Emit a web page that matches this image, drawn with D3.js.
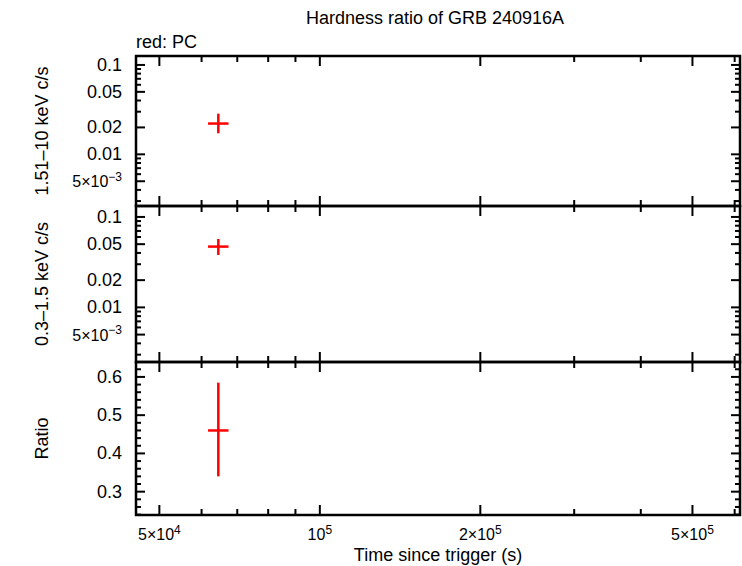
<!DOCTYPE html><html><head><script src="https://cdn.jsdelivr.net/npm/d3@7"></script>
<style>body{margin:0;background:#fff}text{font-family:"Liberation Sans",Arial,sans-serif}</style></head><body>
<svg id="c" width="742" height="566"></svg>
<script>
const times=[64500], timeLo=[61700], timeHi=[67400];
const hard=[0.0221], hardLo=[0.0172], hardHi=[0.0285];
const soft=[0.047], softLo=[0.038], softHi=[0.057];
const ratio=[0.46], ratioLo=[0.34], ratioHi=[0.585];
const xTickVals=[5e4,1e5,2e5,5e5];
const xTickLabels=[["5×10","4"],["10","5"],["2×10","5"],["5×10","5"]];
const svg=d3.select("#c");
const L=136,R=740;
const x=d3.scaleLog().domain([45200,614000]).range([L,R]);
const logTl=[["0.1"],["0.05"],["0.02"],["0.01"],["5×10","−3"]];
const panels=[
 {t:56,b:206,y:d3.scaleLog().domain([10**-2.578,10**-0.9]),d:hard,lo:hardLo,hi:hardHi,lab:"1.51–10 keV c/s",ticks:[0.1,0.05,0.02,0.01,0.005],tl:logTl,log:true},
 {t:206,b:362,y:d3.scaleLog().domain([10**-2.604,10**-0.879]),d:soft,lo:softLo,hi:softHi,lab:"0.3–1.5 keV c/s",ticks:[0.1,0.05,0.02,0.01,0.005],tl:logTl,log:true},
 {t:362,b:515,y:d3.scaleLinear().domain([0.239,0.639]),d:ratio,lo:ratioLo,hi:ratioHi,lab:"Ratio",ticks:[0.3,0.4,0.5,0.6],tl:[["0.3"],["0.4"],["0.5"],["0.6"]],log:false}
];
function sup(t,parts,fs){t.append("tspan").attr("font-size",fs).text(parts[0]);
 if(parts[1])t.append("tspan").attr("font-size",fs*0.75).attr("dy",-fs*0.4).text(parts[1]);}
const minorX=[];for(let d=1e4;d<=1e6;d*=10)for(let k=1;k<10;k++){const v=k*d;if(v>45200&&v<614000)minorX.push(v);}
panels.forEach(p=>{
 p.y.range([p.b,p.t]);
 const g=svg.append("g");
 let minorY=[];
 if(p.log){for(let d=1e-3;d<1;d*=10)for(let k=1;k<10;k++){const v=k*d;const [a,b]=p.y.domain();if(v>a&&v<b)minorY.push(v);}}
 else{for(let v=0.24;v<0.64;v+=0.02)minorY.push(+v.toFixed(2));}
 minorY.forEach(v=>{const yy=p.y(v);const major=p.ticks.some(t=>Math.abs(t-v)<1e-9)||(p.log&&Math.abs(Math.log10(v)-Math.round(Math.log10(v)))<1e-6);const len=major?9:5;
  g.append("line").attr("x1",L).attr("x2",L+len).attr("y1",yy).attr("y2",yy).attr("stroke","#000").attr("stroke-width",2);
  g.append("line").attr("x1",R-len).attr("x2",R).attr("y1",yy).attr("y2",yy).attr("stroke","#000").attr("stroke-width",2);});
 p.ticks.forEach((v,i)=>{const t=g.append("text").attr("x",L-14).attr("y",p.y(v)+6).attr("text-anchor","end");
  sup(t,p.tl[i],p.tl[i][1]?16:18);});
 minorX.forEach(v=>{const xx=x(v);const major=xTickVals.includes(v)||v===1e5;const len=major?10:6;
  g.append("line").attr("x1",xx).attr("x2",xx).attr("y1",p.t).attr("y2",p.t+len).attr("stroke","#000").attr("stroke-width",2);
  g.append("line").attr("x1",xx).attr("x2",xx).attr("y1",p.b).attr("y2",p.b-len).attr("stroke","#000").attr("stroke-width",2);});
 g.append("rect").attr("x",L).attr("y",p.t).attr("width",R-L).attr("height",p.b-p.t).attr("fill","none").attr("stroke","#000").attr("stroke-width",2.5);
 g.append("text").attr("transform",`translate(48,${(p.t+p.b)/2}) rotate(-90)`).attr("text-anchor","middle").attr("font-size",18).text(p.lab);
 p.d.forEach((v,i)=>{
  g.append("line").attr("x1",x(timeLo[i])).attr("x2",x(timeHi[i])).attr("y1",p.y(v)).attr("y2",p.y(v)).attr("stroke","red").attr("stroke-width",2.5);
  g.append("line").attr("x1",x(times[i])).attr("x2",x(times[i])).attr("y1",p.y(p.lo[i])).attr("y2",p.y(p.hi[i])).attr("stroke","red").attr("stroke-width",2.5);
 });
});
xTickVals.forEach((v,i)=>{const t=svg.append("text").attr("x",x(v)).attr("y",540).attr("text-anchor","middle");sup(t,xTickLabels[i],16);});
svg.append("text").attr("x",438).attr("y",561).attr("text-anchor","middle").attr("font-size",18).text("Time since trigger (s)");
svg.append("text").attr("x",435).attr("y",24).attr("text-anchor","middle").attr("font-size",18).text("Hardness ratio of GRB 240916A");
svg.append("text").attr("x",136).attr("y",48).attr("font-size",18).text("red: PC");
</script></body></html>
